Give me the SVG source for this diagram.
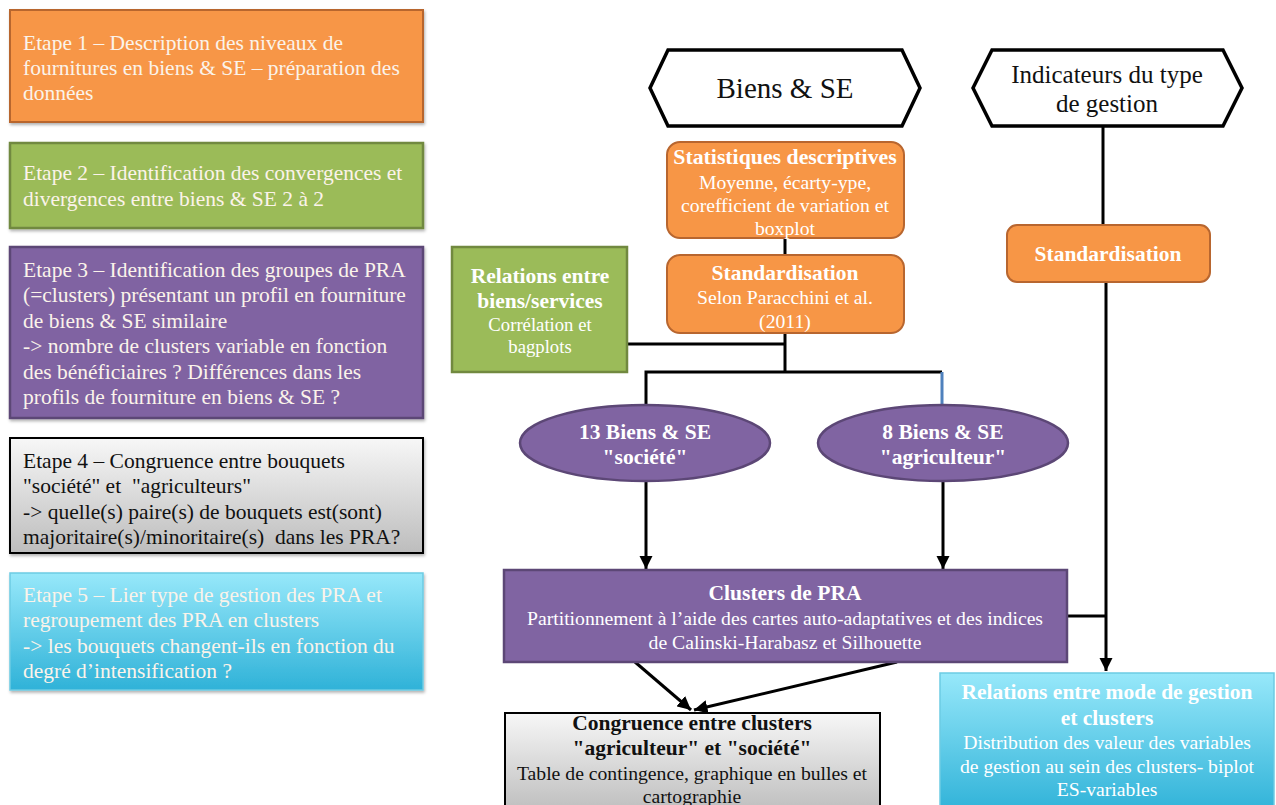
<svg xmlns="http://www.w3.org/2000/svg" width="1276" height="805" viewBox="0 0 1276 805">
<defs>
<linearGradient id="gGray" x1="0" y1="0" x2="0" y2="1"><stop offset="0" stop-color="#F7F7F7"/><stop offset="1" stop-color="#BDBDBD"/></linearGradient>
<linearGradient id="gCyan" x1="0" y1="0" x2="0" y2="1"><stop offset="0" stop-color="#97E8FA"/><stop offset="1" stop-color="#2FB2D8"/></linearGradient>
<marker id="ah" viewBox="0 0 10 10" refX="10" refY="5" markerWidth="4.5" markerHeight="4.5" orient="auto" markerUnits="strokeWidth"><path d="M0,0 L10,5 L0,10 z" fill="#000"/></marker>
<filter id="sh" x="-5%" y="-5%" width="110%" height="115%"><feDropShadow dx="1" dy="2" stdDeviation="1.5" flood-color="#000" flood-opacity="0.3"/></filter>
</defs>
<style>
text{font-family:"Liberation Serif","Times New Roman",serif;}
.lt{font-size:21.5px;fill:#FBF3EA;}
.lk{font-size:21.5px;fill:#111;}
.c{text-anchor:middle;}
.b{font-weight:bold;}
.w{fill:#FFFFFF;}
.k{fill:#111;}
.or{fill:#F79646;stroke:#B8662F;stroke-width:2;}
.gr{fill:#9BBB59;stroke:#71893F;stroke-width:2.5;}
.pu{fill:#8064A2;stroke:#5C4776;stroke-width:2.5;}
.gy{fill:url(#gGray);stroke:#000;stroke-width:2;}
.cy{fill:url(#gCyan);stroke:#6CCBE3;stroke-width:1.5;}
.hex{fill:#fff;stroke:#000;stroke-width:3.5;stroke-linejoin:miter;}
.ln{fill:none;stroke:#000;stroke-width:3;}
.ar{fill:none;stroke:#000;stroke-width:3;marker-end:url(#ah);}
.h1{font-size:21.5px;}
.s2{font-size:19.7px;}
</style>

<g id="etape1">
<rect x="10" y="10" width="413" height="112" class="or" filter="url(#sh)"/>
<text class="lt" x="23" y="50">Etape 1 – Description des niveaux de</text>
<text class="lt" x="23" y="75">fournitures en biens &amp; SE – préparation des</text>
<text class="lt" x="23" y="100">données</text>
</g>
<g id="etape2">
<rect x="10" y="143" width="413" height="85" class="gr" filter="url(#sh)"/>
<text class="lt" x="23" y="180">Etape 2 – Identification des convergences et</text>
<text class="lt" x="23" y="206">divergences entre biens &amp; SE 2 à 2</text>
</g>
<g id="etape3">
<rect x="10" y="247" width="413" height="171" class="pu" filter="url(#sh)"/>
<text class="lt" x="23" y="277">Etape 3 – Identification des groupes de PRA</text>
<text class="lt" x="23" y="302">(=clusters) présentant un profil en fourniture</text>
<text class="lt" x="23" y="328">de biens &amp; SE similaire</text>
<text class="lt" x="23" y="353">-&gt; nombre de clusters variable en fonction</text>
<text class="lt" x="23" y="379">des bénéficiaires ? Différences dans les</text>
<text class="lt" x="23" y="404">profils de fourniture en biens &amp; SE ?</text>
</g>
<g id="etape4">
<rect x="10" y="438" width="413" height="115" class="gy" filter="url(#sh)"/>
<text class="lk" x="23" y="468">Etape 4 – Congruence entre bouquets</text>
<text class="lk" x="23" y="493" xml:space="preserve">"société" et  "agriculteurs"</text>
<text class="lk" x="23" y="519">-&gt; quelle(s) paire(s) de bouquets est(sont)</text>
<text class="lk" x="23" y="544" xml:space="preserve">majoritaire(s)/minoritaire(s)  dans les PRA?</text>
</g>
<g id="etape5">
<rect x="10" y="573" width="413" height="117" class="cy" filter="url(#sh)"/>
<text class="lt" x="23" y="602">Etape 5 – Lier type de gestion des PRA et</text>
<text class="lt" x="23" y="627">regroupement des PRA en clusters</text>
<text class="lt" x="23" y="653">-&gt; les bouquets changent-ils en fonction du</text>
<text class="lt" x="23" y="678">degré d’intensification ?</text>
</g>

<g id="connectors">
<path class="ln" d="M785,238 V255"/>
<path class="ln" d="M627,344 H785"/>
<path class="ln" d="M785,333 V372"/>
<path class="ln" d="M646,405 V372 H942"/>
<path d="M942,372 V406" fill="none" stroke="#4F81BD" stroke-width="3"/>
<path class="ar" d="M646,482 V569"/>
<path class="ar" d="M943,482 V569"/>
<path class="ar" d="M635,662 L691,710"/>
<path class="ar" d="M897,662 L694,710"/>
<path class="ln" d="M1103,126 V225"/>
<path class="ar" d="M1106,282 V671"/>
<path class="ln" d="M1067,616 H1106"/>
</g>

<g id="hex-biens">
<polygon class="hex" points="650,88 668,50 902,50 920,88 902,126 668,126"/>
<text class="c k" x="785" y="98" style="font-size:29px">Biens &amp; SE</text>
</g>
<g id="hex-indicateurs">
<polygon class="hex" points="973,88 992,50 1223,50 1242,88 1223,126 992,126"/>
<text class="c k" x="1107" y="83" style="font-size:25px">Indicateurs du type</text>
<text class="c k" x="1107" y="112" style="font-size:25px">de gestion</text>
</g>
<g id="stats">
<rect x="667" y="142" width="237" height="96" rx="13" class="or"/>
<text class="c w b" x="785" y="164" style="font-size:21.8px">Statistiques descriptives</text>
<text class="c w s2" x="785" y="189">Moyenne, écarty-ype,</text>
<text class="c w s2" x="785" y="212">corefficient de variation et</text>
<text class="c w s2" x="785" y="235">boxplot</text>
</g>
<g id="standardisation1">
<rect x="667" y="255" width="237" height="78" rx="13" class="or"/>
<text class="c w b h1" x="785" y="280">Standardisation</text>
<text class="c w s2" x="785" y="304">Selon Paracchini et al.</text>
<text class="c w s2" x="785" y="328">(2011)</text>
</g>
<g id="relations-biens">
<rect x="452" y="247" width="175" height="125" class="gr"/>
<text class="c w b h1" x="540" y="283">Relations entre</text>
<text class="c w b h1" x="540" y="308">biens/services</text>
<text class="c w" x="540" y="331" style="font-size:18.7px">Corrélation et</text>
<text class="c w" x="540" y="353" style="font-size:18.7px">bagplots</text>
</g>
<g id="standardisation2">
<rect x="1007" y="225" width="203" height="57" rx="10" class="or"/>
<text class="c w b h1" x="1108" y="261">Standardisation</text>
</g>
<g id="societe">
<ellipse cx="645" cy="443" rx="125" ry="38" class="pu"/>
<text class="c w b" x="645" y="439" style="font-size:21.5px">13 Biens &amp; SE</text>
<text class="c w b" x="645" y="464" style="font-size:21.5px">"société"</text>
</g>
<g id="agriculteur">
<ellipse cx="943" cy="443" rx="125" ry="38" class="pu"/>
<text class="c w b" x="943" y="439" style="font-size:21.5px">8 Biens &amp; SE</text>
<text class="c w b" x="943" y="464" style="font-size:21.5px">"agriculteur"</text>
</g>
<g id="clusters">
<rect x="504" y="570" width="563" height="92" class="pu"/>
<text class="c w b" x="785" y="600" style="font-size:21.5px">Clusters de PRA</text>
<text class="c w s2" x="785" y="625">Partitionnement à l’aide des cartes auto-adaptatives et des indices</text>
<text class="c w s2" x="785" y="649">de Calinski-Harabasz et Silhouette</text>
</g>
<g id="congruence">
<rect x="505" y="713" width="375" height="100" class="gy"/>
<text class="c k b h1" x="692" y="730">Congruence entre clusters</text>
<text class="c k b h1" x="692" y="755">"agriculteur" et "société"</text>
<text class="c k s2" x="692" y="780">Table de contingence, graphique en bulles et</text>
<text class="c k s2" x="692" y="803">cartographie</text>
</g>
<g id="relations-gestion">
<rect x="940" y="673" width="334" height="140" class="cy"/>
<text class="c w b h1" x="1107" y="699">Relations entre mode de gestion</text>
<text class="c w b h1" x="1107" y="725">et clusters</text>
<text class="c w s2" x="1107" y="749">Distribution des valeur des variables</text>
<text class="c w s2" x="1107" y="773">de gestion au sein des clusters- biplot</text>
<text class="c w s2" x="1107" y="796">ES-variables</text>
</g>
</svg>
